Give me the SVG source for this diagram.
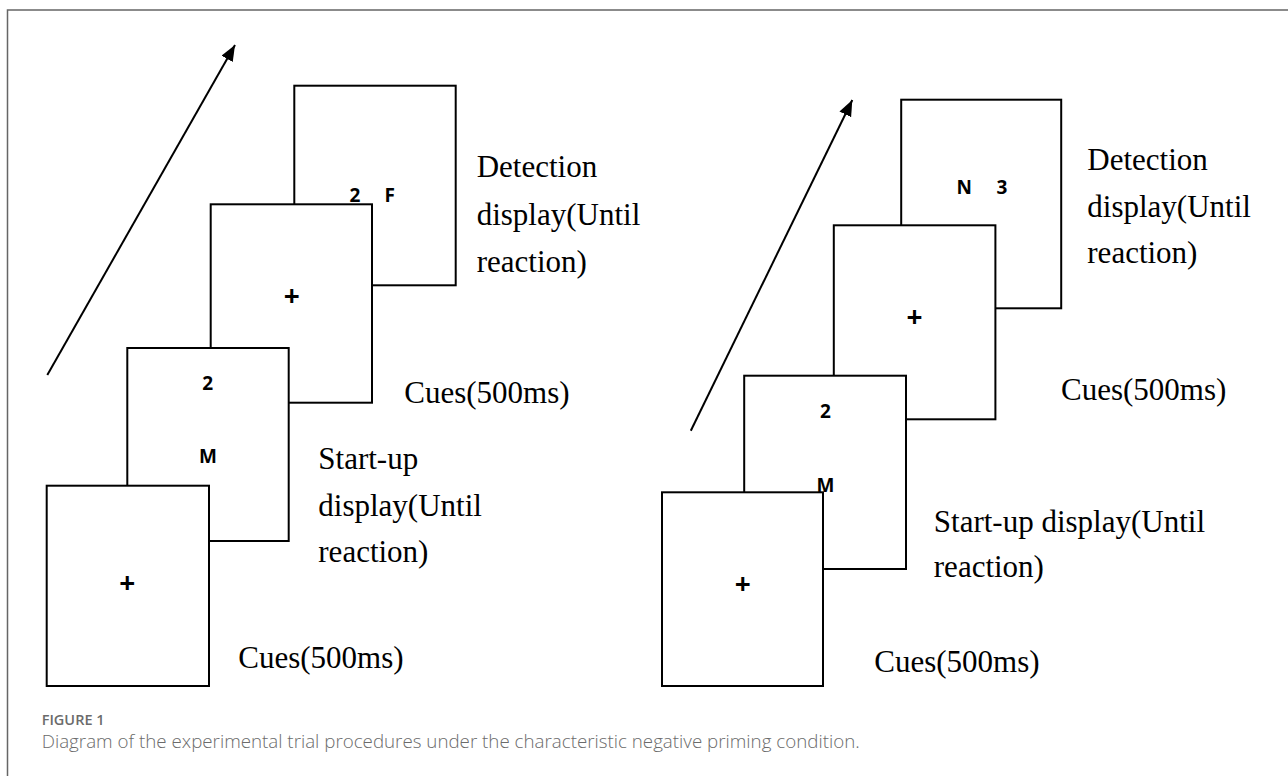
<svg xmlns="http://www.w3.org/2000/svg" width="1288" height="776" viewBox="0 0 1288 776">
<style>
.frame{fill:none;stroke:#666;stroke-width:1.5}
.card{fill:#fff;stroke:#000;stroke-width:2}
.lbl{font-family:"Liberation Serif","Times New Roman",serif;font-size:31px;fill:#000}
.in{font-family:"Open Sans","Liberation Sans",sans-serif;font-weight:700;font-size:19px;fill:#000}
.plus{font-family:"Open Sans","Liberation Sans",sans-serif;font-weight:700;font-size:28px;fill:#000;text-anchor:middle}
.mid{text-anchor:middle}
.arrow{stroke:#000;stroke-width:2;fill:none}
.fig{font-family:"Open Sans","Liberation Sans",sans-serif;font-weight:600;font-size:14.5px;fill:#6b6b6b}
.cap{font-family:"Open Sans","Liberation Sans",sans-serif;font-weight:300;font-size:18px;fill:#6b6b6b}
</style>
<defs>
<marker id="ah" markerUnits="userSpaceOnUse" markerWidth="18" markerHeight="14" refX="16" refY="6.5" orient="auto">
<path d="M0,0 L16,6.5 L0,13 z" fill="#000"/>
</marker>
</defs>
<path class="frame" d="M7.5,776 L7.5,10 L1288,10"/>
<g id="connectors">
<line class="arrow" x1="47.3" y1="375" x2="235" y2="45" marker-end="url(#ah)"/>
<line class="arrow" x1="690.8" y1="430.7" x2="852.3" y2="100" marker-end="url(#ah)"/>
</g>
<g id="left-detection">
<rect class="card" x="294.3" y="85.7" width="161.4" height="199.6"/>
<text class="in" x="349.5" y="201.7">2</text>
<text class="in" x="384.5" y="201.7">F</text>
<text class="lbl" x="476.7" y="177.3">Detection</text>
<text class="lbl" x="476.7" y="224.5">display(Until</text>
<text class="lbl" x="476.7" y="271.7">reaction)</text>
</g>
<g id="left-cues2">
<rect class="card" x="210.7" y="204.3" width="161.3" height="198.4"/>
<text class="plus" x="291.7" y="306">+</text>
<text class="lbl" x="404.3" y="402.7">Cues(500ms)</text>
</g>
<g id="left-startup">
<rect class="card" x="127.3" y="348" width="161.4" height="193"/>
<text class="in mid" x="207.7" y="390">2</text>
<text class="in mid" x="208" y="463.3">M</text>
<text class="lbl" x="318.3" y="469.3">Start-up</text>
<text class="lbl" x="318.3" y="515.5">display(Until</text>
<text class="lbl" x="318.3" y="561.7">reaction)</text>
</g>
<g id="left-cues1">
<rect class="card" x="46.7" y="485.7" width="162.3" height="200.3"/>
<text class="plus" x="127.3" y="592.7">+</text>
<text class="lbl" x="238.3" y="668.3">Cues(500ms)</text>
</g>
<g id="right-detection">
<rect class="card" x="901.2" y="99.7" width="160" height="208.6"/>
<text class="in" x="956.5" y="194">N</text>
<text class="in" x="996.5" y="194">3</text>
<text class="lbl" x="1087.3" y="170">Detection</text>
<text class="lbl" x="1087.3" y="216.7">display(Until</text>
<text class="lbl" x="1087.3" y="263.3">reaction)</text>
</g>
<g id="right-cues2">
<rect class="card" x="833.8" y="225.3" width="161.6" height="194"/>
<text class="plus" x="914.6" y="327.3">+</text>
<text class="lbl" x="1061" y="400">Cues(500ms)</text>
</g>
<g id="right-startup">
<rect class="card" x="744.2" y="375.7" width="161.8" height="193.3"/>
<text class="in mid" x="825.4" y="418">2</text>
<text class="in mid" x="825.4" y="491.7">M</text>
<text class="lbl" x="933.8" y="532.3">Start-up display(Until</text>
<text class="lbl" x="933.8" y="577.3">reaction)</text>
</g>
<g id="right-cues1">
<rect class="card" x="662" y="492.3" width="161" height="193.7"/>
<text class="plus" x="742.7" y="594">+</text>
<text class="lbl" x="874.3" y="671.7">Cues(500ms)</text>
</g>
<g id="caption">
<text class="fig" x="41.7" y="725">FIGURE 1</text>
<text class="cap" x="41.7" y="748.3" textLength="818" lengthAdjust="spacingAndGlyphs">Diagram of the experimental trial procedures under the characteristic negative priming condition.</text>
</g>
</svg>
